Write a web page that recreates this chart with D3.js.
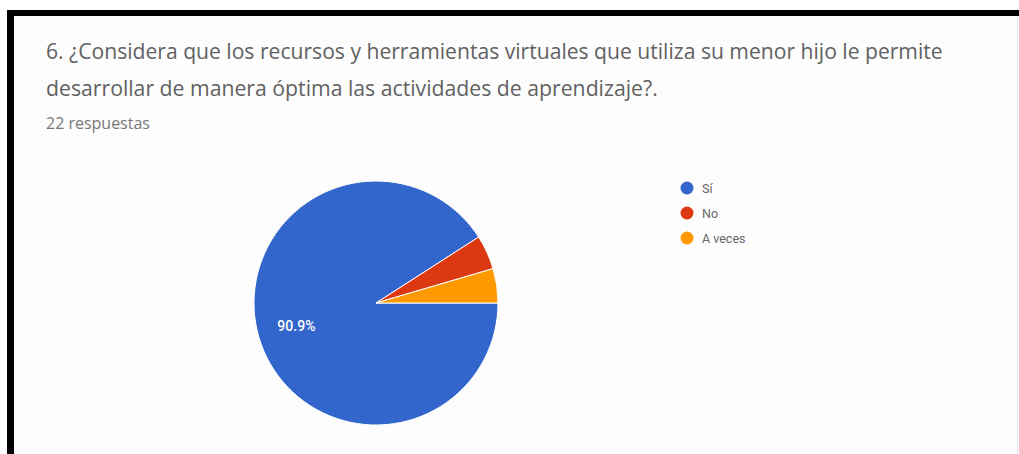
<!DOCTYPE html>
<html><head><meta charset="utf-8">
<script src="https://cdn.jsdelivr.net/npm/d3@7"></script>
<style>html,body{margin:0;padding:0;background:#fff;overflow:hidden}</style>
</head><body>
<svg id="c" width="1019" height="454"></svg>
<script>
const titleLines = ["6. ¿Considera que los recursos y herramientas virtuales que utiliza su menor hijo le permite",
                    "desarrollar de manera óptima las actividades de aprendizaje?."];
const subtitle = "22 respuestas";
const categories = ["Sí", "No", "A veces"];
const values = [20, 1, 1];
const colors = ["#3366cc", "#dc3912", "#ff9900"];

const svg = d3.select("#c");
// frame
svg.append("rect").attr("x",0).attr("y",0).attr("width",1019).attr("height",454).attr("fill","#fff");
svg.append("rect").attr("x",14).attr("y",16).attr("width",1003).attr("height",438).attr("fill","#fdfdfd");
svg.append("rect").attr("x",7).attr("y",10).attr("width",7).attr("height",444).attr("fill","#000");
svg.append("rect").attr("x",7).attr("y",10).attr("width",1012).attr("height",6).attr("fill","#000");
svg.append("rect").attr("x",1017).attr("y",16).attr("width",1).attr("height",438).attr("fill","#e4e4e4");

const font = "'Open Sans', sans-serif";
function fitText(sel, target){
  const base = parseFloat(sel.attr("font-size"));
  const w = sel.node().getComputedTextLength();
  sel.attr("font-size", base*target/w);
}
const t1 = svg.append("text").attr("x",46).attr("y",59).attr("font-family",font).attr("font-size",16).attr("fill","#616161").text(titleLines[0]);
fitText(t1, 897);
const t2 = svg.append("text").attr("x",46).attr("y",96).attr("font-family",font).attr("font-size",16).attr("fill","#616161").text(titleLines[1]);
fitText(t2, 612);
const t3 = svg.append("text").attr("x",46).attr("y",129).attr("font-family",font).attr("font-size",12).attr("fill","#777").text(subtitle);
fitText(t3, 104);

// pie
const cx = 376, cy = 303, r = 122;
const pie = d3.pie().sort(null).startAngle(Math.PI/2).endAngle(Math.PI/2 + 2*Math.PI);
const arcs = pie(values);
const arc = d3.arc().innerRadius(0).outerRadius(r);
const g = svg.append("g").attr("transform",`translate(${cx},${cy})`);
g.selectAll("path").data(arcs).join("path")
  .attr("d", arc).attr("fill",(d,i)=>colors[i]).attr("stroke","#fff").attr("stroke-width",1);
const total = d3.sum(values);
const labelArc = d3.arc().innerRadius(r*0.68).outerRadius(r*0.68);
g.selectAll("text").data(arcs.filter(d => (d.endAngle-d.startAngle) > 0.5)).join("text")
  .attr("transform", d => `translate(${labelArc.centroid(d)})`)
  .attr("text-anchor","middle").attr("dominant-baseline","central")
  .attr("font-family","Roboto, Arial, sans-serif").attr("font-size",14).attr("font-weight",500)
  .attr("fill","#fff")
  .text(d => (100*d.value/total).toFixed(1) + "%");

// legend
const legend = svg.append("g");
const ly = d3.scalePoint().domain(categories).range([188, 238]);
categories.forEach((c,i)=>{
  legend.append("circle").attr("cx",687).attr("cy",ly(c)).attr("r",6.5).attr("fill",colors[i]);
  legend.append("text").attr("x",702).attr("y",ly(c)).attr("dominant-baseline","central")
    .attr("font-family","Roboto, Arial, sans-serif").attr("font-size",12.5).attr("fill","#666").text(c);
});
</script>
</body></html>
